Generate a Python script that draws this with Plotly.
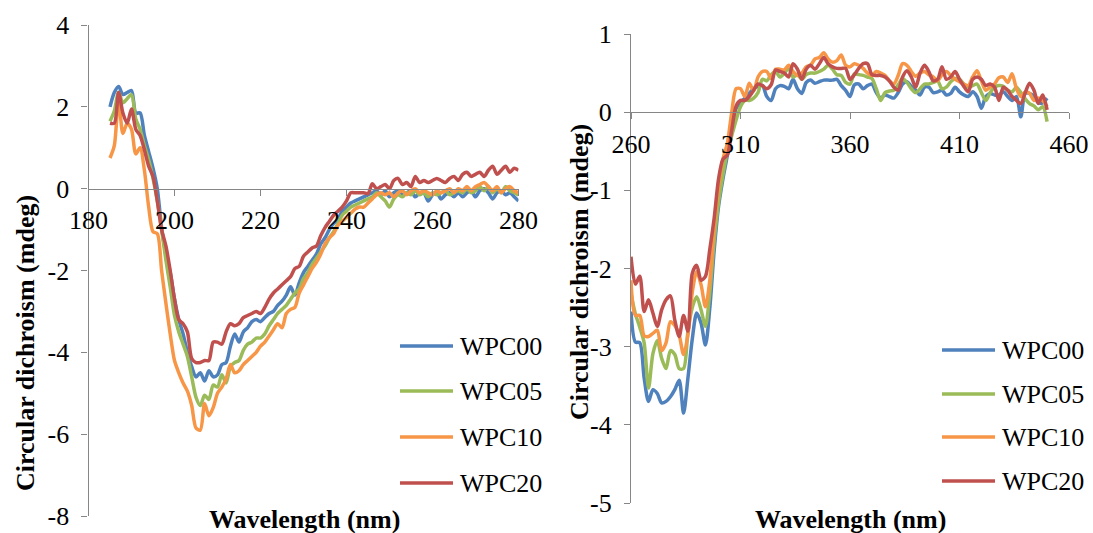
import plotly.graph_objects as go

# ---------------- data ----------------
series_names = ["WPC00", "WPC05", "WPC10", "WPC20"]
series_colors = ["#4F81BD", "#9BBB59", "#F79646", "#C0504D"]

# Left panel: far-UV (185-280 nm, 1 nm step)
wl_far = list(range(185, 281))
far_wpc00 = [2.0, 2.35, 2.5, 2.3, 2.35, 2.4, 1.85, 1.85, 1.3, 0.9, 0.5, 0.0, -0.95, -1.6, -2.05,
             -2.7, -3.2, -3.55, -4.0, -4.35, -4.6, -4.5, -4.7, -4.45, -4.6, -4.55, -4.3, -4.25, -3.85, -3.55,
             -3.75, -3.5, -3.4, -3.25, -3.2, -3.25, -3.15, -3.05, -3.0, -2.85, -2.75, -2.6, -2.4, -2.6, -2.3,
             -2.05, -1.9, -1.75, -1.6, -1.35, -1.2, -1.0, -0.85, -0.75, -0.55, -0.45, -0.35, -0.3, -0.25, -0.2,
             -0.15, -0.1, -0.05, -0.15, -0.05, -0.2, -0.1, -0.05, -0.15, -0.1, -0.05, -0.2, -0.1, -0.1, -0.3,
             -0.15, -0.1, -0.25, -0.15, -0.1, -0.2, -0.1, -0.2, -0.1, -0.05, -0.2, -0.05, 0.0, -0.1, -0.25,
             -0.1, -0.05, -0.15, -0.1, -0.2, -0.3]
far_wpc05 = [1.65, 1.9, 2.35, 2.1, 2.2, 2.3, 1.7, 1.45, 1.05, 0.7, 0.25, -0.3, -1.0, -1.75, -2.4,
             -3.1, -3.5, -3.8, -4.1, -4.6, -5.1, -5.3, -5.05, -5.15, -4.8, -4.85, -4.55, -4.75, -4.35, -4.25,
             -4.2, -3.95, -3.8, -3.75, -3.65, -3.65, -3.55, -3.35, -3.2, -3.05, -2.95, -2.85, -2.7, -2.55, -2.45,
             -2.2, -2.05, -1.85, -1.7, -1.55, -1.4, -1.2, -1.05, -0.85, -0.65, -0.55, -0.45, -0.4, -0.35, -0.3,
             -0.25, -0.2, -0.1, -0.2, -0.3, -0.45, -0.25, -0.15, -0.2, -0.1, -0.15, -0.05, -0.15, -0.1, -0.2,
             -0.1, -0.15, -0.1, -0.05, -0.15, -0.1, -0.05, -0.1, 0.0, -0.1, -0.05, 0.05, -0.05, 0.05, -0.1,
             0.0, -0.1, 0.05, -0.05, -0.1, -0.15]
far_wpc10 = [0.75, 1.05, 2.2, 1.35, 1.6, 1.45, 0.85, 1.0, 0.45, -0.45, -1.05, -1.1, -2.0, -2.8, -3.55,
             -4.2, -4.5, -4.75, -4.95, -5.3, -5.85, -5.9, -5.25, -5.55, -5.35, -5.0, -4.85, -4.65, -4.3, -4.5,
             -4.45, -4.3, -4.2, -4.1, -4.0, -3.85, -3.75, -3.6, -3.45, -3.3, -3.4, -3.05, -2.95, -2.9, -2.55,
             -2.35, -2.15, -1.95, -1.8, -1.6, -1.35, -1.2, -1.1, -0.9, -0.8, -0.7, -0.6, -0.5, -0.45, -0.45,
             -0.35, -0.25, -0.15, -0.1, -0.15, -0.1, -0.2, -0.1, -0.05, -0.15, -0.05, 0.0, -0.1, -0.05, -0.1,
             -0.15, -0.05, -0.1, -0.05, 0.0, -0.1, 0.0, -0.05, 0.05, -0.05, 0.05, 0.1, 0.15, 0.05, -0.05,
             0.05, -0.1, 0.0, 0.05, -0.05, -0.1]
far_wpc20 = [1.6, 1.6, 2.35, 1.85, 1.6, 1.95, 1.45, 1.3, 0.95, 0.55, 0.3, -0.3, -1.0, -1.4, -2.0,
             -2.7, -3.2, -3.3, -3.5, -4.15, -4.25, -4.25, -4.2, -4.2, -3.75, -3.75, -3.8, -3.5, -3.3, -3.35,
             -3.3, -3.15, -3.1, -3.05, -3.0, -3.05, -2.9, -2.7, -2.55, -2.45, -2.35, -2.25, -2.15, -1.95, -1.9,
             -1.65, -1.55, -1.45, -1.4, -1.15, -0.95, -0.8, -0.65, -0.55, -0.45, -0.3, -0.1, -0.1, -0.1, -0.1,
             -0.12, 0.12, 0.0, 0.05, 0.1, 0.0, 0.2, 0.25, 0.1, 0.15, 0.05, 0.3, 0.15, 0.2, 0.15,
             0.2, 0.25, 0.2, 0.15, 0.25, 0.3, 0.2, 0.35, 0.4, 0.3, 0.35, 0.4, 0.3, 0.45, 0.55,
             0.35, 0.45, 0.55, 0.4, 0.5, 0.45]

# Right panel: near-UV (260-450 nm, 2 nm step)
wl_near = list(range(260, 451, 2))
near_wpc00 = [-2.55, -2.94, -2.95, -3.4, -3.7, -3.55, -3.6, -3.72, -3.7, -3.64, -3.55, -3.43, -3.85, -3.4, -2.9,
              -2.57, -2.7, -2.98, -2.5, -1.76, -1.2, -0.85, -0.55, -0.19, 0.05, 0.12, 0.18, 0.24, 0.3, 0.33,
              0.34, 0.2, 0.15, 0.3, 0.34, 0.33, 0.3, 0.42, 0.3, 0.24, 0.38, 0.41, 0.37, 0.39, 0.41,
              0.41, 0.41, 0.42, 0.34, 0.28, 0.2, 0.35, 0.36, 0.3, 0.34, 0.36, 0.25, 0.18, 0.22, 0.2,
              0.18, 0.25, 0.36, 0.39, 0.33, 0.28, 0.22, 0.32, 0.32, 0.25, 0.26, 0.28, 0.22, 0.24, 0.32,
              0.26, 0.22, 0.2, 0.26, 0.2, 0.05, 0.2, 0.24, 0.22, 0.22, 0.26, 0.2, 0.15, 0.2, -0.06,
              0.24, 0.24, 0.2, 0.12, 0.12, 0.18]
near_wpc05 = [-2.32, -2.58, -2.75, -2.95, -3.53, -3.09, -2.92, -3.15, -3.28, -3.05, -3.1, -3.28, -3.28, -2.8, -2.5,
              -2.36, -2.53, -2.74, -2.3, -1.64, -1.15, -0.8, -0.5, -0.3, -0.1, 0.07, 0.15, 0.15, 0.18, 0.25,
              0.42, 0.4, 0.48, 0.52, 0.45, 0.5, 0.56, 0.45, 0.48, 0.42, 0.48, 0.5, 0.5, 0.52, 0.55,
              0.6, 0.55, 0.48, 0.47, 0.38, 0.36, 0.49, 0.48, 0.47, 0.45, 0.43, 0.3, 0.15, 0.25, 0.27,
              0.28, 0.35, 0.43, 0.38, 0.3, 0.25, 0.3, 0.36, 0.36, 0.38, 0.4, 0.3, 0.32, 0.39, 0.43,
              0.42, 0.36, 0.32, 0.34, 0.36, 0.25, 0.15, 0.25, 0.32, 0.34, 0.33, 0.28, 0.26, 0.32, 0.25,
              0.17, 0.11, 0.08, 0.03, 0.07, -0.12]
near_wpc10 = [-2.15, -2.6, -2.6, -2.86, -2.87, -2.83, -2.79, -3.05, -2.95, -2.68, -2.73, -2.85, -3.1, -2.85, -2.3,
              -2.04, -2.21, -2.49, -2.15, -1.47, -0.95, -0.6, -0.4, 0.0, 0.3, 0.3, 0.2, 0.37, 0.27, 0.45,
              0.52, 0.52, 0.43, 0.55, 0.55, 0.54, 0.6, 0.52, 0.47, 0.5, 0.58, 0.6, 0.68, 0.7, 0.76,
              0.68, 0.64, 0.66, 0.73, 0.6, 0.58, 0.62, 0.6, 0.56, 0.5, 0.47, 0.52, 0.5, 0.47, 0.4,
              0.36, 0.47, 0.62, 0.6, 0.52, 0.46, 0.5, 0.52, 0.48, 0.45, 0.4, 0.48, 0.52, 0.47, 0.42,
              0.39, 0.36, 0.34, 0.45, 0.53, 0.4, 0.28, 0.32, 0.36, 0.44, 0.45, 0.38, 0.49, 0.3, 0.2,
              0.26, 0.24, 0.15, 0.18, 0.15, 0.07]
near_wpc20 = [-1.85, -2.2, -2.1, -2.55, -2.4, -2.57, -2.74, -2.53, -2.4, -2.35, -2.66, -2.87, -2.6, -2.8, -2.06,
              -1.96, -2.15, -2.1, -1.75, -1.35, -0.85, -0.6, -0.55, -0.23, 0.08, 0.15, 0.15, 0.2, 0.28, 0.36,
              0.34, 0.3, 0.35, 0.54, 0.52, 0.5, 0.45, 0.62, 0.55, 0.42, 0.55, 0.6, 0.55, 0.62, 0.7,
              0.62, 0.58, 0.56, 0.56, 0.56, 0.42, 0.48, 0.56, 0.62, 0.62, 0.48, 0.47, 0.47, 0.45, 0.4,
              0.32, 0.28, 0.45, 0.53, 0.45, 0.32, 0.5, 0.6, 0.52, 0.4, 0.42, 0.58, 0.42, 0.45, 0.52,
              0.42, 0.33, 0.26, 0.42, 0.45, 0.42, 0.34, 0.36, 0.32, 0.15, 0.32, 0.28, 0.2, 0.15, 0.11,
              0.25, 0.37, 0.28, 0.11, 0.22, 0.03]

far_ticks = [180, 200, 220, 240, 260, 280]
far_yticks = [-8, -6, -4, -2, 0, 2, 4]
near_ticks = [260, 310, 360, 410, 460]
near_yticks = [-5, -4, -3, -2, -1, 0, 1]

x_title = "Wavelength (nm)"
y_title = "Circular dichroism (mdeg)"

# ---------------- figure ----------------
W, H = 1093, 533
FONT = "Liberation Serif"
AXC = "#868686"
LW = 3.5

def px(xp):
    return xp / W

def py(yp):
    return 1 - yp / H

left_dom_x = [px(88.5), px(518.5)]
left_dom_y = [py(516), py(25)]
right_dom_x = [px(631), px(1069)]
right_dom_y = [py(503), py(34)]

left_yr = [-8, 4]
right_yr = [-5, 1]

def zero_pos(dom, yr):
    return dom[0] + (0 - yr[0]) / (yr[1] - yr[0]) * (dom[1] - dom[0])

fig = go.Figure()
far_vals = [far_wpc00, far_wpc05, far_wpc10, far_wpc20]
near_vals = [near_wpc00, near_wpc05, near_wpc10, near_wpc20]
for name, col, v in zip(series_names, series_colors, far_vals):
    fig.add_trace(go.Scatter(x=wl_far, y=v, mode="lines", name=name,
                             line=dict(color=col, width=LW, shape="spline", smoothing=0.8),
                             xaxis="x", yaxis="y", showlegend=False))
for name, col, v in zip(series_names, series_colors, near_vals):
    fig.add_trace(go.Scatter(x=wl_near, y=v, mode="lines", name=name,
                             line=dict(color=col, width=LW, shape="spline", smoothing=0.8),
                             xaxis="x2", yaxis="y2", showlegend=False))

tickfont = dict(family=FONT, size=26, color="black")
common_x = dict(showline=True, linecolor=AXC, linewidth=1.3, ticks="outside", ticklen=6,
                tickcolor=AXC, tickwidth=1.3, showgrid=False, zeroline=False, tickfont=tickfont,
                anchor="free", ticklabelstandoff=2)
common_y = dict(showline=True, linecolor=AXC, linewidth=1.3, ticks="outside", ticklen=6,
                tickcolor=AXC, tickwidth=1.3, showgrid=False, zeroline=False, tickfont=tickfont,
                ticklabelstandoff=7)

fig.update_layout(
    width=W, height=H, margin=dict(l=0, r=0, t=0, b=0, autoexpand=False),
    paper_bgcolor="white", plot_bgcolor="white",
    font=dict(family=FONT, size=26, color="black"),
    xaxis=dict(domain=left_dom_x, range=[180, 280], tickvals=far_ticks,
               ticktext=[str(t) for t in far_ticks],
               position=zero_pos(left_dom_y, left_yr), **common_x),
    yaxis=dict(domain=left_dom_y, range=left_yr, tickvals=far_yticks,
               ticktext=[str(t) for t in far_yticks], anchor="x", **common_y),
    xaxis2=dict(domain=right_dom_x, range=[260, 460], tickvals=near_ticks,
                ticktext=[str(t) for t in near_ticks],
                position=zero_pos(right_dom_y, right_yr), **common_x),
    yaxis2=dict(domain=right_dom_y, range=right_yr, tickvals=near_yticks,
                ticktext=[str(t) for t in near_yticks], anchor="x2", **common_y),
)

title_font = dict(family=FONT, size=26, color="black")
ann = [
    dict(text="<b>%s</b>" % x_title, x=px(304), y=py(519), xref="paper", yref="paper",
         xanchor="center", yanchor="middle", showarrow=False, font=title_font),
    dict(text="<b>%s</b>" % x_title, x=px(850), y=py(519), xref="paper", yref="paper",
         xanchor="center", yanchor="middle", showarrow=False, font=title_font),
    dict(text="<b>%s</b>" % y_title, x=px(25), y=py(343), xref="paper", yref="paper",
         xanchor="center", yanchor="middle", showarrow=False, font=title_font, textangle=-90),
    dict(text="<b>%s</b>" % y_title, x=px(579), y=py(272), xref="paper", yref="paper",
         xanchor="center", yanchor="middle", showarrow=False, font=title_font, textangle=-90),
]

# legends (drawn as shapes + text, matching the original legend boxes)
shapes = []
legend_specs = [
    (400, 453, 458, [346, 391, 437, 483]),
    (942, 995, 1000, [350, 394, 437, 481]),
]
for x0, x1, xt, ys in legend_specs:
    for name, col, yy in zip(series_names, series_colors, ys):
        shapes.append(dict(type="line", xref="paper", yref="paper", x0=px(x0), x1=px(x1),
                           y0=py(yy), y1=py(yy), line=dict(color=col, width=LW)))
        ann.append(dict(text=name, x=px(xt), y=py(yy), xref="paper", yref="paper",
                        xanchor="left", yanchor="middle", showarrow=False,
                        font=dict(family=FONT, size=26, color="black")))

fig.update_layout(annotations=ann, shapes=shapes)
fig.write_html("out.html", config={"displayModeBar": False},
               post_script="document.body.style.margin='0px';document.body.style.overflow='hidden';")
